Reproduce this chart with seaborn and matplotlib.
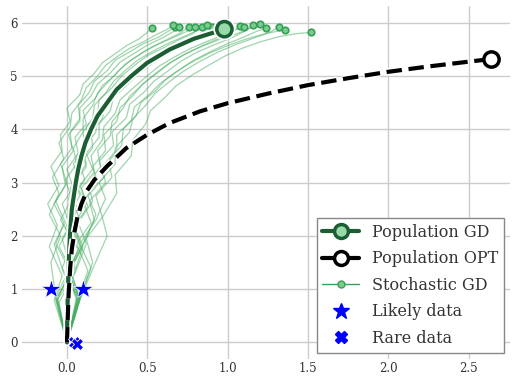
import numpy as np
import pandas as pd
import matplotlib.pyplot as plt
import matplotlib.patheffects as pe
from matplotlib.lines import Line2D
import seaborn as sns

# population gradient descent path
gd_x = [0, 0.002, 0.006, 0.011, 0.018, 0.03, 0.055, 0.07, 0.09, 0.115, 0.15, 0.19, 0.25, 0.31, 0.40, 0.50, 0.64, 0.79, 0.98]
gd_y = [0, 0.5, 1.0, 1.5, 2.0, 2.5, 3.0, 3.25, 3.5, 3.75, 4.0, 4.25, 4.5, 4.75, 5.0, 5.25, 5.5, 5.7, 5.88]

# population optimum path
opt_x = [0, 0.004, 0.01, 0.02, 0.03, 0.045, 0.065, 0.09, 0.125, 0.17, 0.25, 0.37, 0.5, 0.64, 0.83, 1.0, 1.25, 1.5, 1.75, 2.0, 2.25, 2.5, 2.64]
opt_y = [0, 0.4, 0.9, 1.4, 1.75, 2.05, 2.35, 2.6, 2.85, 3.05, 3.31, 3.65, 3.9, 4.12, 4.34, 4.49, 4.67, 4.83, 4.96, 5.08, 5.18, 5.27, 5.32]

# data points
likely_x = [-0.1, 0.1]
likely_y = [1.0, 1.0]
rare_x = [0.045, 0.06]
rare_y = [0.01, -0.02]

# stochastic GD runs, one list of (x, y) vertices per run
sgd_runs = [
    [(0, 0), (-0.08, 0.8), (-0.03, 1.25), (-0.11, 1.8), (-0.06, 2.2), (-0.12, 2.6), (-0.05, 2.95), (-0.1, 3.3), (-0.03, 3.6), (-0.04, 3.9), (0.02, 4.15), (0.0, 4.4), (0.08, 4.65), (0.1, 4.85), (0.17, 5.05), (0.22, 5.25), (0.3, 5.42), (0.37, 5.57), (0.45, 5.7), (0.5, 5.82), (0.53, 5.91)],
    [(0, 0), (0.07, 0.85), (-0.02, 1.3), (-0.08, 1.85), (-0.01, 2.25), (-0.07, 2.65), (0.0, 3.0), (-0.04, 3.35), (0.03, 3.65), (0.02, 3.95), (0.08, 4.2), (0.07, 4.45), (0.14, 4.7), (0.17, 4.9), (0.25, 5.1), (0.3, 5.3), (0.4, 5.47), (0.47, 5.6), (0.57, 5.73), (0.63, 5.84), (0.67, 5.93)],
    [(0, 0), (-0.07, 0.8), (0.03, 1.35), (-0.05, 1.8), (0.02, 2.2), (-0.03, 2.6), (0.04, 2.9), (0.0, 3.25), (0.07, 3.55), (0.05, 3.85), (0.12, 4.1), (0.1, 4.35), (0.18, 4.6), (0.22, 4.82), (0.3, 5.02), (0.36, 5.22), (0.45, 5.4), (0.53, 5.55), (0.62, 5.68), (0.7, 5.8), (0.76, 5.92)],
    [(0, 0), (0.08, 0.8), (0.01, 1.3), (0.07, 1.75), (-0.01, 2.15), (0.06, 2.55), (0.02, 2.9), (0.09, 3.2), (0.06, 3.5), (0.13, 3.8), (0.12, 4.05), (0.19, 4.3), (0.2, 4.55), (0.28, 4.78), (0.34, 5.0), (0.42, 5.2), (0.5, 5.38), (0.6, 5.53), (0.69, 5.67), (0.78, 5.79), (0.84, 5.93)],
    [(0, 0), (-0.06, 0.85), (0.05, 1.4), (0.0, 1.9), (0.08, 2.3), (0.03, 2.7), (0.11, 3.05), (0.08, 3.35), (0.16, 3.65), (0.15, 3.95), (0.22, 4.2), (0.24, 4.45), (0.31, 4.68), (0.37, 4.9), (0.45, 5.1), (0.52, 5.3), (0.62, 5.46), (0.71, 5.6), (0.8, 5.72), (0.88, 5.83), (0.94, 5.94)],
    [(0, 0), (0.07, 0.8), (0.13, 1.35), (0.06, 1.85), (0.15, 2.25), (0.1, 2.65), (0.19, 3.0), (0.16, 3.3), (0.24, 3.6), (0.23, 3.9), (0.31, 4.15), (0.33, 4.4), (0.41, 4.63), (0.47, 4.85), (0.56, 5.05), (0.64, 5.25), (0.74, 5.42), (0.84, 5.57), (0.94, 5.7), (1.02, 5.82), (1.08, 5.94)],
    [(0, 0), (0.08, 0.85), (0.16, 1.5), (0.12, 1.95), (0.22, 2.35), (0.18, 2.75), (0.28, 3.1), (0.26, 3.4), (0.34, 3.7), (0.35, 4.0), (0.43, 4.25), (0.46, 4.5), (0.55, 4.72), (0.61, 4.92), (0.7, 5.12), (0.79, 5.3), (0.9, 5.47), (1.0, 5.61), (1.1, 5.73), (1.18, 5.84), (1.24, 5.9)],
    [(0, 0), (0.08, 0.8), (0.17, 1.45), (0.25, 2.0), (0.22, 2.35), (0.31, 2.8), (0.3, 3.15), (0.4, 3.5), (0.41, 3.8), (0.49, 4.1), (0.52, 4.35), (0.61, 4.6), (0.68, 4.82), (0.78, 5.02), (0.88, 5.2), (0.98, 5.37), (1.09, 5.52), (1.2, 5.64), (1.32, 5.74), (1.44, 5.8), (1.52, 5.82)],
    [(0, 0), (-0.07, 0.85), (-0.1, 1.5), (-0.04, 2.0), (-0.11, 2.4), (-0.05, 2.8), (-0.09, 3.1), (-0.02, 3.45), (-0.05, 3.75), (0.02, 4.05), (0.03, 4.3), (0.09, 4.55), (0.12, 4.78), (0.19, 5.0), (0.24, 5.2), (0.32, 5.38), (0.39, 5.52), (0.48, 5.65), (0.55, 5.77), (0.62, 5.87), (0.66, 5.95)],
    [(0, 0), (0.06, 0.8), (0.0, 1.3), (0.08, 1.8), (0.03, 2.3), (0.1, 2.7), (0.05, 3.0), (0.12, 3.3), (0.09, 3.6), (0.16, 3.88), (0.15, 4.12), (0.22, 4.38), (0.25, 4.6), (0.32, 4.82), (0.39, 5.02), (0.47, 5.22), (0.56, 5.4), (0.65, 5.55), (0.74, 5.68), (0.83, 5.8), (0.9, 5.92)],
    [(0, 0), (-0.05, 0.75), (0.04, 1.25), (0.1, 1.8), (0.04, 2.2), (0.12, 2.6), (0.08, 2.95), (0.16, 3.25), (0.12, 3.55), (0.2, 3.85), (0.2, 4.1), (0.27, 4.35), (0.29, 4.6), (0.37, 4.82), (0.44, 5.03), (0.53, 5.23), (0.62, 5.4), (0.72, 5.56), (0.82, 5.7), (0.92, 5.82), (1.0, 5.93)],
    [(0, 0), (0.07, 0.85), (0.02, 1.4), (0.12, 1.95), (0.18, 2.4), (0.13, 2.75), (0.23, 3.1), (0.2, 3.4), (0.29, 3.7), (0.28, 3.95), (0.37, 4.22), (0.39, 4.47), (0.48, 4.7), (0.54, 4.9), (0.63, 5.1), (0.71, 5.28), (0.81, 5.45), (0.92, 5.59), (1.02, 5.71), (1.1, 5.83), (1.16, 5.96)],
    [(0, 0), (0.08, 0.8), (0.15, 1.4), (0.08, 1.85), (0.18, 2.3), (0.24, 2.7), (0.2, 3.0), (0.3, 3.35), (0.3, 3.65), (0.39, 3.95), (0.41, 4.2), (0.49, 4.45), (0.55, 4.68), (0.64, 4.9), (0.73, 5.1), (0.83, 5.28), (0.94, 5.45), (1.05, 5.59), (1.16, 5.71), (1.26, 5.82), (1.32, 5.92)],
    [(0, 0), (-0.06, 0.8), (0.02, 1.35), (-0.07, 1.85), (-0.02, 2.25), (-0.08, 2.6), (-0.01, 2.95), (-0.03, 3.3), (0.04, 3.6), (0.01, 3.9), (0.08, 4.15), (0.08, 4.4), (0.15, 4.63), (0.19, 4.85), (0.27, 5.06), (0.33, 5.26), (0.42, 5.43), (0.5, 5.58), (0.59, 5.71), (0.66, 5.83), (0.7, 5.93)],
    [(0, 0), (0.07, 0.9), (-0.01, 1.45), (0.06, 1.95), (0.0, 2.35), (0.08, 2.75), (0.05, 3.05), (0.12, 3.35), (0.1, 3.65), (0.18, 3.95), (0.18, 4.2), (0.25, 4.45), (0.28, 4.68), (0.35, 4.88), (0.42, 5.08), (0.5, 5.27), (0.59, 5.44), (0.68, 5.58), (0.78, 5.71), (0.86, 5.82), (0.98, 5.9)],
    [(0, 0), (-0.06, 0.8), (0.05, 1.3), (0.12, 1.85), (0.07, 2.25), (0.16, 2.65), (0.13, 3.0), (0.21, 3.3), (0.19, 3.6), (0.27, 3.88), (0.28, 4.14), (0.35, 4.4), (0.39, 4.62), (0.47, 4.84), (0.55, 5.05), (0.64, 5.24), (0.74, 5.42), (0.85, 5.57), (0.96, 5.7), (1.07, 5.81), (1.2, 5.97)],
    [(0, 0), (0.08, 0.85), (0.02, 1.35), (0.1, 1.85), (0.17, 2.3), (0.14, 2.65), (0.24, 3.0), (0.22, 3.3), (0.31, 3.62), (0.31, 3.9), (0.4, 4.17), (0.42, 4.42), (0.51, 4.65), (0.58, 4.86), (0.67, 5.06), (0.77, 5.25), (0.88, 5.42), (0.99, 5.56), (1.11, 5.69), (1.24, 5.8), (1.36, 5.87)],
    [(0, 0), (0.06, 0.85), (-0.03, 1.4), (0.04, 1.9), (-0.04, 2.3), (0.03, 2.7), (-0.01, 3.05), (0.06, 3.35), (0.04, 3.65), (0.1, 3.95), (0.1, 4.2), (0.16, 4.45), (0.19, 4.68), (0.26, 4.9), (0.32, 5.1), (0.4, 5.3), (0.48, 5.46), (0.57, 5.6), (0.66, 5.72), (0.74, 5.83), (0.8, 5.93)],
    [(0, 0), (0.07, 0.8), (0.01, 1.3), (0.09, 1.75), (0.05, 2.2), (0.13, 2.55), (0.09, 2.9), (0.17, 3.2), (0.15, 3.5), (0.22, 3.8), (0.23, 4.05), (0.3, 4.3), (0.33, 4.55), (0.41, 4.77), (0.49, 4.98), (0.57, 5.18), (0.67, 5.36), (0.77, 5.52), (0.88, 5.66), (0.99, 5.79), (1.1, 5.93)],
    [(0, 0), (-0.07, 0.85), (0.02, 1.4), (-0.03, 1.95), (0.05, 2.35), (0.01, 2.7), (0.07, 3.05), (0.04, 3.35), (0.11, 3.65), (0.1, 3.95), (0.16, 4.2), (0.17, 4.45), (0.24, 4.68), (0.29, 4.9), (0.36, 5.1), (0.44, 5.3), (0.53, 5.46), (0.62, 5.6), (0.71, 5.72), (0.8, 5.84), (0.87, 5.95)],
]

x_ticks = [0.0, 0.5, 1.0, 1.5, 2.0, 2.5]
y_ticks = [0, 1, 2, 3, 4, 5, 6]

dark_green = "#1c5e33"
mint = "#98d9aa"
sgd_green = "#33a155"
sgd_fill = "#7ccb91"

sns.set_theme(style="whitegrid")
plt.rcParams['font.family'] = ['DejaVu Serif']

rows = []
for i, run in enumerate(sgd_runs):
    for step, (px, py) in enumerate(run):
        rows.append({"run": i, "step": step, "x": px, "y": py})
sgd_df = pd.DataFrame(rows)
ends = sgd_df.groupby("run").tail(1)

fig = plt.figure(figsize=(5.12, 3.78), dpi=100)
ax = fig.add_axes([22 / 512, 19 / 378, 488 / 512, 353 / 378])

sns.lineplot(data=sgd_df, x="x", y="y", units="run", estimator=None, sort=False,
             color="#41ab5d", alpha=0.5, lw=0.9, ax=ax, zorder=2)
sns.scatterplot(data=ends, x="x", y="y", color=sgd_fill, edgecolor=sgd_green,
                linewidth=1.2, s=22, ax=ax, zorder=3)

white_edge = [pe.Stroke(linewidth=5.5, foreground="white"), pe.Normal()]
ax.plot(gd_x, gd_y, color=dark_green, lw=3, zorder=4, path_effects=white_edge,
        solid_capstyle="round")
ax.plot(gd_x[-1], gd_y[-1], "o", ms=11, mfc=mint, mec=dark_green, mew=2.5, zorder=5,
        path_effects=[pe.Stroke(linewidth=5, foreground="white"), pe.Normal()])

ax.plot(opt_x, opt_y, color="black", lw=3, ls="--", zorder=6, path_effects=white_edge)
ax.plot(opt_x[-1], opt_y[-1], "o", ms=11, mfc="white", mec="black", mew=2.5, zorder=7)

ax.plot(likely_x, likely_y, "*", ms=15, color="blue", mec="white", mew=0.5, ls="none", zorder=8)
ax.plot(rare_x, rare_y, "X", ms=9, color="blue", mec="white", mew=0.6, ls="none", zorder=8)

ax.set_xlim(-0.28, 2.758)
ax.set_ylim(-0.31, 6.315)
ax.set_xticks(x_ticks)
ax.set_yticks(y_ticks)
ax.set_xlabel("")
ax.set_ylabel("")
ax.tick_params(axis="both", length=0, labelsize=8.5, labelcolor="#333333")
ax.tick_params(axis="x", pad=2)
ax.tick_params(axis="y", pad=3)
sns.despine(ax=ax, left=True, bottom=True)

handles = [
    Line2D([], [], color=dark_green, lw=3, marker="o", ms=10, mfc=mint, mec=dark_green, mew=2.5),
    Line2D([], [], color="black", lw=3, marker="o", ms=10, mfc="white", mec="black", mew=2.5),
    Line2D([], [], color=sgd_green, lw=1, marker="o", ms=5, mfc=sgd_fill, mec=sgd_green, mew=1),
    Line2D([], [], color="blue", marker="*", ms=12, ls="none"),
    Line2D([], [], color="blue", marker="X", ms=8, ls="none"),
]
labels = ["Population GD", "Population OPT", "Stochastic GD", "Likely data", "Rare data"]
leg = ax.legend(handles, labels, loc="lower right", fontsize=11.5, fancybox=False,
                framealpha=1, edgecolor="#888888", handlelength=2.3, handletextpad=0.8,
                borderaxespad=0.4, labelspacing=0.6, borderpad=0.35)
leg.get_frame().set_linewidth(1.0)
for t in leg.get_texts():
    t.set_color("#333333")

fig.savefig("out.png", dpi=100)
